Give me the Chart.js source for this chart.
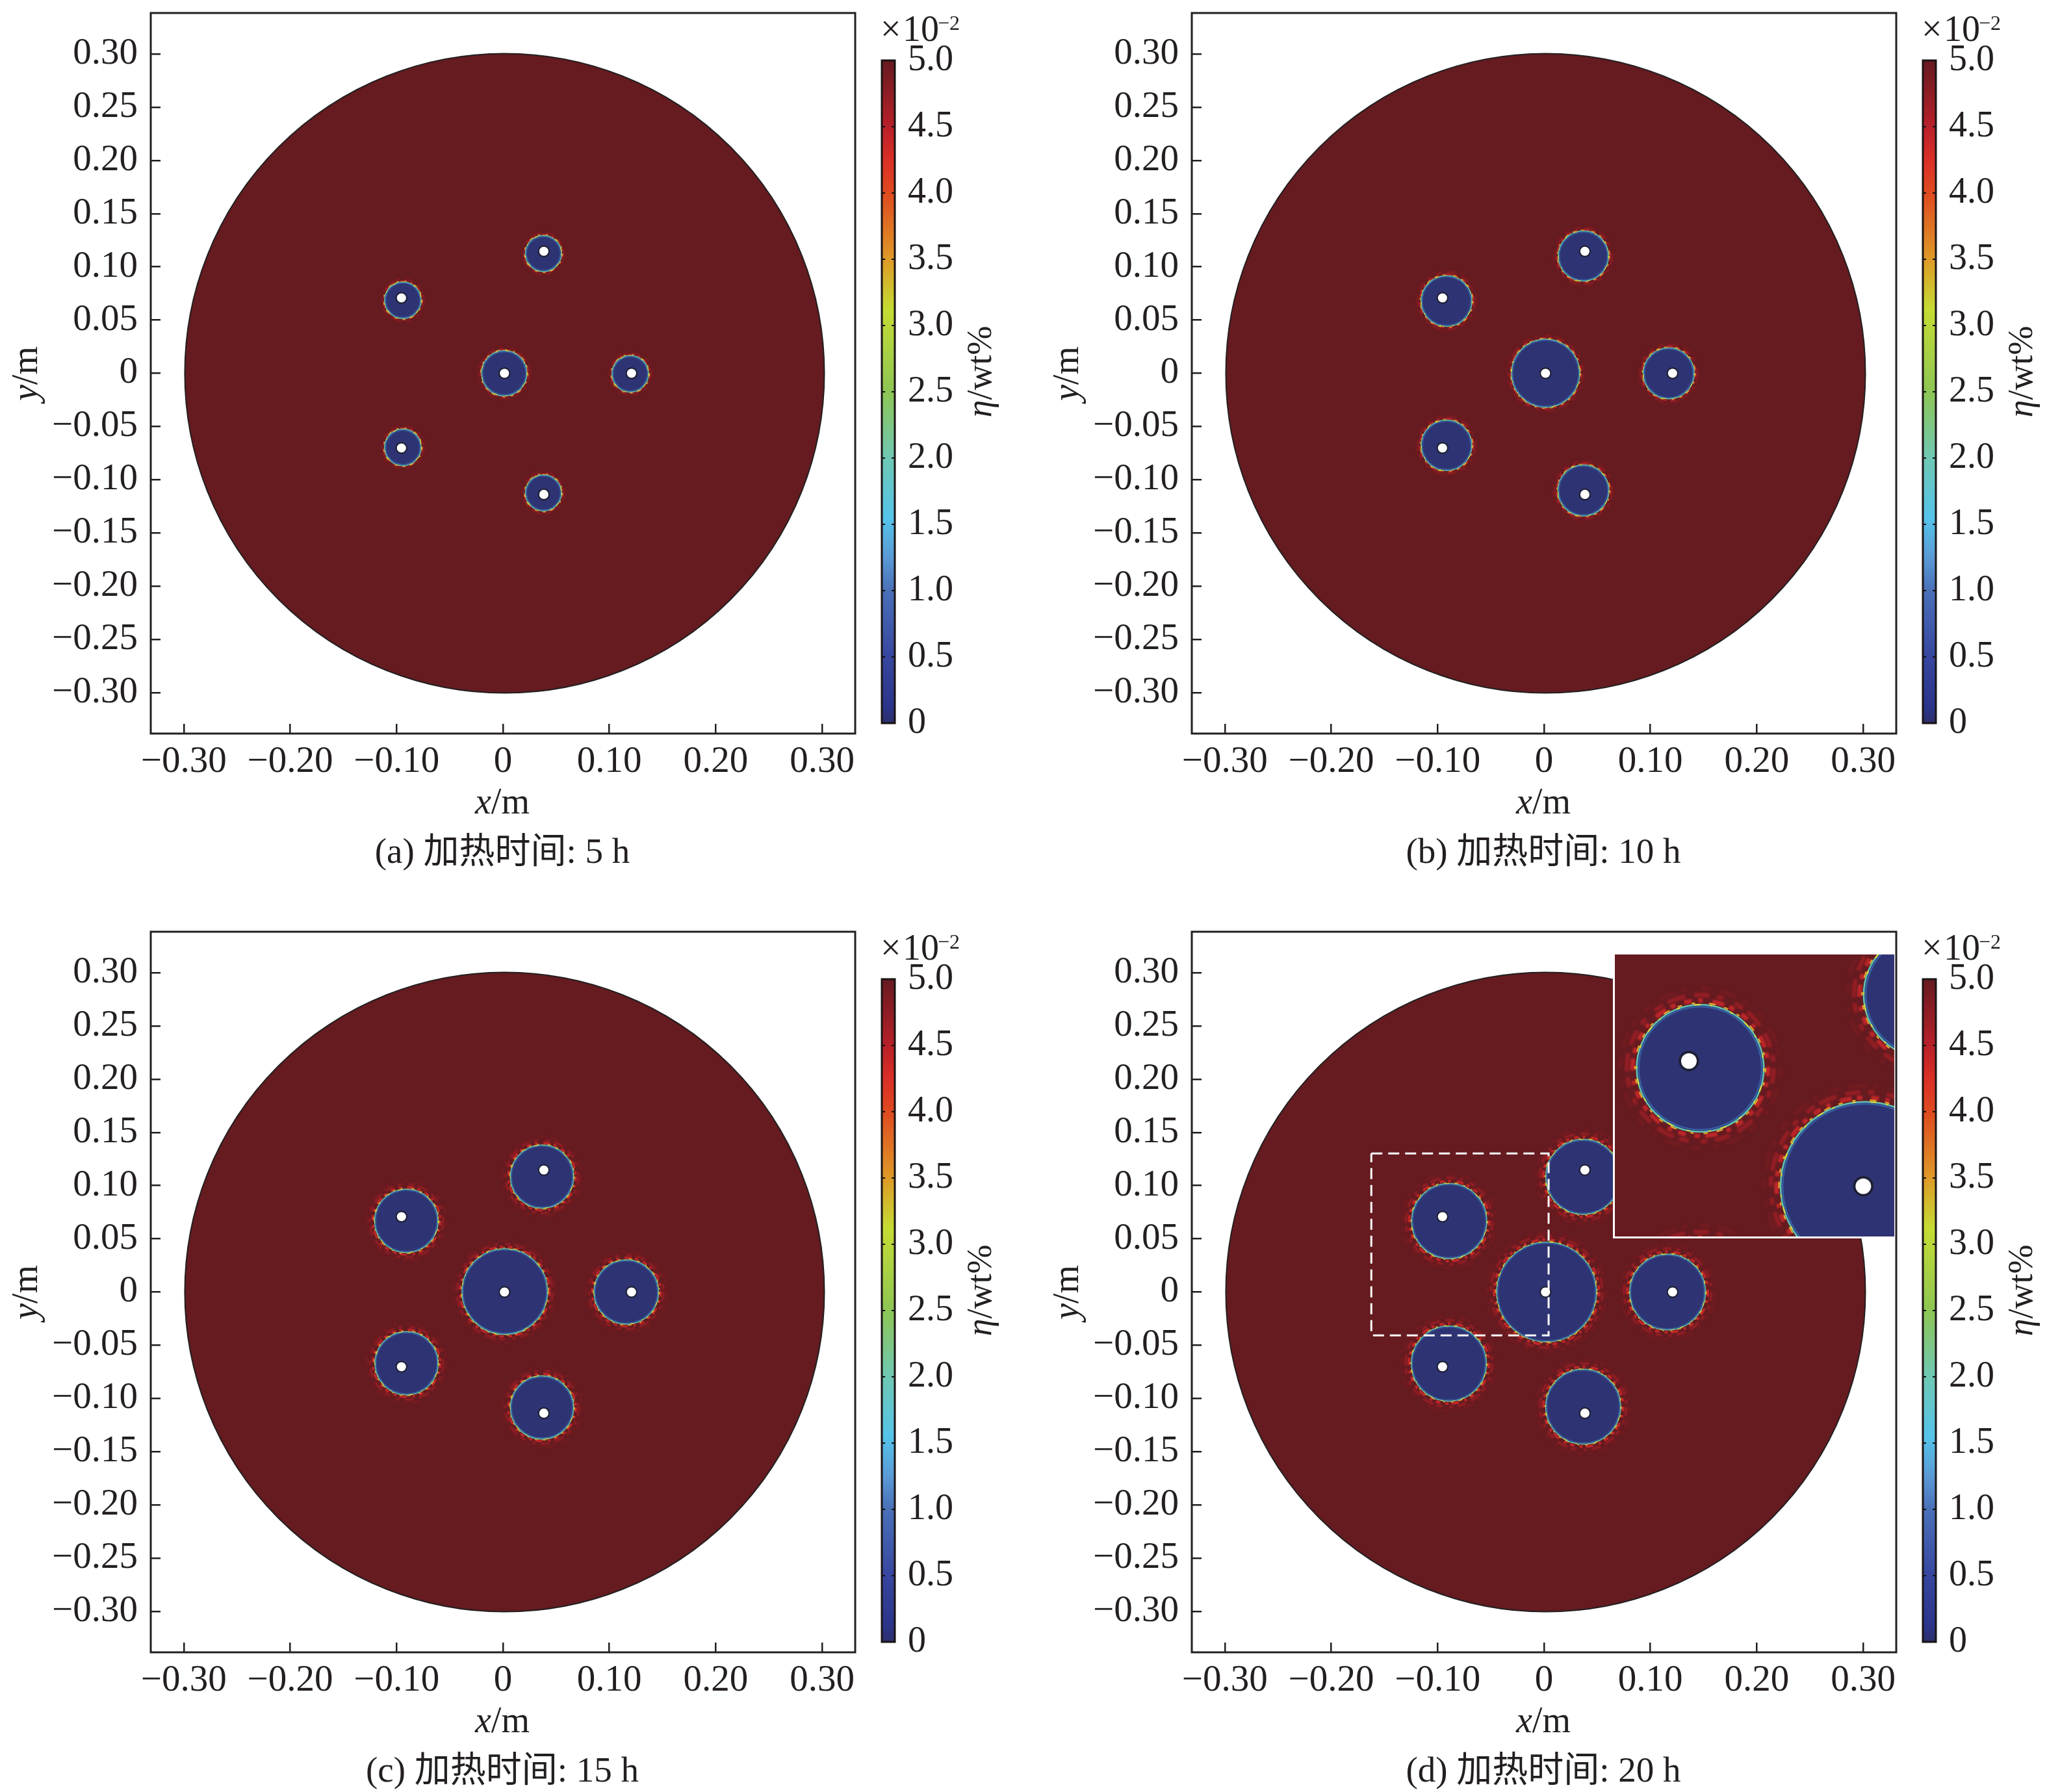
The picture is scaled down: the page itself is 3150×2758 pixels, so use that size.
<!DOCTYPE html>
<html><head><meta charset="utf-8">
<style>
html,body{margin:0;padding:0;background:#fff;width:3150px;height:2758px;overflow:hidden}
canvas{position:absolute;display:block}
</style>
<script src="https://cdn.jsdelivr.net/npm/chart.js@4"></script>
</head><body>
<script>
// ---- axis ticks ----
const xTickValues=[-0.30,-0.20,-0.10,0,0.10,0.20,0.30];
const yTickValues=[0.30,0.25,0.20,0.15,0.10,0.05,0,-0.05,-0.10,-0.15,-0.20,-0.25,-0.30];
const cbTickValues=[0,0.5,1.0,1.5,2.0,2.5,3.0,3.5,4.0,4.5,5.0];
// ---- colour scale (value, colour) ----
const cbStopValues=[0,0.12,0.5,1.0,1.25,1.55,2.0,2.5,3.12,3.5,4.0,4.25,4.5,5.0];
const cbStopColors=['#2e2f6c','#2b3489','#37469f','#4a70b8','#5a9ad5','#55c4ea','#6fc8b4','#8dc654','#c5dc33','#de9a27','#df4a20','#da2f26','#b82029','#661a20'];
// ---- billet ----
const billetX=[0.0015];
const billetY=[0];
const billetR=[0.3005];
// ---- heater holes ----
const holeX=[0.0014,0.1208,0.0384,0.0384,-0.0954,-0.0954];
const holeY=[0,0,0.1146,-0.1138,0.0708,-0.0702];
const holeR=[0.0050,0.0050,0.0050,0.0050,0.0050,0.0050];
// ---- melted pools per panel ----
const diskX5=[0.0012,0.1196,0.0380,0.0380,-0.0941,-0.0941];
const diskY5=[0,-0.0005,0.1125,-0.1124,0.0686,-0.0696];
const diskR5=[0.0213,0.0172,0.0170,0.0170,0.0172,0.0172];
const diskX10=[0.0015,0.1172,0.0370,0.0370,-0.0916,-0.0916];
const diskY10=[0,0,0.1102,-0.1101,0.0679,-0.0677];
const diskR10=[0.0320,0.0240,0.0236,0.0240,0.0239,0.0238];
const diskX15=[0.0017,0.1159,0.0367,0.0367,-0.0908,-0.0906];
const diskY15=[0.0004,0,0.1084,-0.1085,0.0668,-0.0669];
const diskR15=[0.0402,0.0303,0.0297,0.0297,0.0298,0.0297];
const diskX20=[0.0024,0.1161,0.0368,0.0368,-0.0891,-0.0894];
const diskY20=[0,0,0.1082,-0.1077,0.0667,-0.0672];
const diskR20=[0.0469,0.0356,0.0352,0.0352,0.0353,0.0353];
// ---- dashed zoom window in (d) ----
const zoomRectX=[-0.1623,0.0043,0.0043,-0.1623,-0.1623];
const zoomRectY=[0.1302,0.1302,-0.0407,-0.0407,0.1302];
// ---- captions ----
const captions=['(a) 加热时间: 5 h','(b) 加热时间: 10 h','(c) 加热时间: 15 h','(d) 加热时间: 20 h'];
const haloWidths=[0.0032,0.0040,0.0062,0.0072];

const INK='#231f20', SERIF='"Liberation Serif","Noto Sans CJK SC",serif';
const panelData=[[diskX5,diskY5,diskR5],[diskX10,diskY10,diskR10],[diskX15,diskY15,diskR15],[diskX20,diskY20,diskR20]];
const pts=(xs,ys,rs)=>xs.map((x,i)=>({x,y:ys[i],rm:rs[i]}));
const rPx=ctx=>{const s=ctx.chart.scales.x;return s.getPixelForValue(ctx.raw.rm)-s.getPixelForValue(0);};
const kOf=chart=>{const s=chart.scales.x;return (s.getPixelForValue(1)-s.getPixelForValue(0))/1637;};
const fmtAxis=v=>{if(Math.abs(v)<1e-9)return '0';const t=Math.abs(v).toFixed(2);return v<0?'\u2212'+t:t;};

function drawParts(ctx,parts,cx,cy,rot,size){
  ctx.save();ctx.translate(cx,cy);ctx.rotate(rot||0);ctx.fillStyle=INK;ctx.textBaseline='alphabetic';ctx.textAlign='left';
  let w=0;parts.forEach(p=>{ctx.font=(p.i?'italic ':'')+size+'px '+SERIF;w+=ctx.measureText(p.t).width;});
  let x=-w/2;parts.forEach(p=>{ctx.font=(p.i?'italic ':'')+size+'px '+SERIF;ctx.fillText(p.t,x,size*0.33);x+=ctx.measureText(p.t).width;});
  ctx.restore();
}
const haloPlugin={id:'halo',
  beforeDatasetDraw(chart,args){
    const ds=chart.data.datasets[args.index]; if(ds.role!=='disk')return;
    const s=chart.scales.x,y=chart.scales.y,c=chart.ctx,a=chart.chartArea,k=kOf(chart),w=ds.halo*1637*k;
    c.save();c.beginPath();c.rect(a.left,a.top,a.width,a.height);c.clip();
    ds.data.forEach(d=>{
      const px=s.getPixelForValue(d.x),py=y.getPixelForValue(d.y),r=rPx({chart,raw:d});
      const ring=(rr,col,lw,dash,blur)=>{c.filter='blur('+blur+'px)';c.beginPath();c.arc(px,py,rr,0,Math.PI*2);c.strokeStyle=col;c.lineWidth=lw;c.setLineDash(dash.map(v=>v*k));c.stroke();};
      ring(r+w*1.25,'rgba(170,32,38,.22)',w*0.30,[9,8,17,6,5,12],1.2*k);
      ring(r+w*0.75,'rgba(185,33,40,.55)',w*0.34,[14,7,6,11,9,5,17,8],1.0*k);
      ring(r+w*0.32,'rgba(205,40,42,.85)',w*0.34,[7,6,4,9,11,5,5,8],0.7*k);
      ring(r+1.5*k,'#e2a02a',1.5*k,[4,9,3,13,6,8],0.2*k);
    });
    c.filter='none';c.setLineDash([]);c.restore();
  },
  afterDatasetDraw(chart,args){
    const ds=chart.data.datasets[args.index]; if(ds.role!=='disk')return;
    const s=chart.scales.x,y=chart.scales.y,c=chart.ctx,a=chart.chartArea,k=kOf(chart);
    c.save();c.beginPath();c.rect(a.left,a.top,a.width,a.height);c.clip();
    ds.data.forEach(d=>{
      const px=s.getPixelForValue(d.x),py=y.getPixelForValue(d.y),r=rPx({chart,raw:d});
      c.beginPath();c.arc(px,py,r,0,Math.PI*2);c.strokeStyle='#d8d93c';c.lineWidth=1.3*k;c.setLineDash([3*k,13*k,6*k,9*k,2*k,17*k]);c.stroke();
      c.beginPath();c.arc(px,py,r-1.9*k,0,Math.PI*2);c.strokeStyle='rgba(61,127,196,.6)';c.lineWidth=1.3*k;c.setLineDash([]);c.stroke();
    });
    c.restore();
  }
};
const framePlugin={id:'frame',afterDraw(chart){
  const a=chart.chartArea,c=chart.ctx,o=chart.options.plugins.frame;
  if(!o||!o.width)return;
  c.save();c.strokeStyle=o.color||INK;c.lineWidth=o.width;c.strokeRect(a.left,a.top,a.width,a.height);c.restore();
}};
function datasets(p,withRect){
  const [dx,dy,dr]=panelData[p];
  const list=[];
  if(withRect) list.push({label:'zoom window',data:zoomRectX.map((x,i)=>({x,y:zoomRectY[i]})),showLine:true,pointRadius:0,borderColor:'#ffffff',borderWidth:3,borderDash:[17,9],fill:false});
  list.push({label:'holes',data:pts(holeX,holeY,holeR),pointBackgroundColor:'#ffffff',pointBorderColor:'#1e2036',pointRadius:rPx,pointBorderWidth:ctx=>2.2*kOf(ctx.chart)});
  list.push({label:'pools',role:'disk',halo:haloWidths[p],data:pts(dx,dy,dr),pointBackgroundColor:'#2e3473',pointBorderColor:'#62c4ae',pointRadius:rPx,pointBorderWidth:ctx=>1.5*kOf(ctx.chart)});
  list.push({label:'billet',data:pts(billetX,billetY,billetR),pointBackgroundColor:'#651b20',pointBorderColor:'#231f20',pointRadius:rPx,pointBorderWidth:2});
  return list;
}
function mkCanvas(x,y,w,h){const c=document.createElement('canvas');c.width=w;c.height=h;c.style.left=x+'px';c.style.top=y+'px';c.style.width=w+'px';c.style.height=h+'px';document.body.appendChild(c);return c;}
const FONT={family:SERIF,size:57};
const CBFONT={family:SERIF,size:56};
const noPad=s=>{s.paddingLeft=0;s.paddingRight=0;s.paddingTop=0;s.paddingBottom=0;};
function panel(p,ox,oy){
  const cv=mkCanvas(ox,oy,1340,1344);
  new Chart(cv,{type:'scatter',
    data:{datasets:datasets(p,p===3)},
    options:{responsive:false,animation:false,devicePixelRatio:1,events:[],
      layout:{padding:{left:0,right:24,top:20,bottom:115}},
      plugins:{legend:{display:false},tooltip:{enabled:false},title:{display:false},frame:{width:3,color:INK}},
      scales:{
        x:{type:'linear',position:'bottom',min:-0.331,max:0.331,afterFit:s=>{s.height=100;noPad(s);},
          afterBuildTicks:s=>{s.ticks=xTickValues.map(value=>({value}));},
          ticks:{callback:fmtAxis,font:FONT,color:INK,padding:25,maxRotation:0,autoSkip:false},
          grid:{drawOnChartArea:false,drawTicks:true,tickLength:-15,color:INK,lineWidth:2.5},border:{display:false}},
        y:{type:'linear',position:'left',min:-0.3385,max:0.3385,afterFit:s=>{s.width=232;noPad(s);},
          afterBuildTicks:s=>{s.ticks=yTickValues.map(value=>({value}));},
          ticks:{callback:fmtAxis,font:FONT,color:INK,padding:35,autoSkip:false},
          grid:{drawOnChartArea:false,drawTicks:true,tickLength:-15,color:INK,lineWidth:2.5},border:{display:false}}
      }},
    plugins:[haloPlugin,framePlugin,{id:'labels',afterDraw(ch){
      const c=ch.ctx;
      drawParts(c,[{t:'x',i:true},{t:'/m'}],773,1234,0,56);
      drawParts(c,[{t:'y',i:true},{t:'/m'}],39,575,-Math.PI/2,56);
      drawParts(c,[{t:captions[p]}],773,1310,0,55);
    }}]
  });
  // colour bar
  const cb=mkCanvas(ox+1320,oy,280,1200);
  const tickGrid={drawOnChartArea:false,drawTicks:true,tickLength:-5,color:'#111',lineWidth:2,z:2};
  new Chart(cb,{type:'bar',
    data:{labels:['η'],datasets:[{label:'η',data:[5.0],barPercentage:1,categoryPercentage:1,
      backgroundColor:ctx=>{const a=ctx.chart.chartArea;if(!a)return cbStopColors[0];
        const g=ctx.chart.ctx.createLinearGradient(0,a.bottom,0,a.top);
        cbStopValues.forEach((v,i)=>g.addColorStop(v/5,cbStopColors[i]));return g;}}]},
    options:{responsive:false,animation:false,devicePixelRatio:1,events:[],
      layout:{padding:{left:37,right:0,top:93,bottom:87}},
      plugins:{legend:{display:false},tooltip:{enabled:false},frame:{width:3,color:'#1a1414'}},
      scales:{
        x:{type:'category',display:false},
        y:{type:'linear',position:'right',min:0,max:5,afterFit:s=>{s.width=223;noPad(s);},
          afterBuildTicks:s=>{s.ticks=cbTickValues.map(value=>({value}));},
          ticks:{callback:v=>v===0?'0':v.toFixed(1),font:CBFONT,color:INK,padding:25,autoSkip:false},
          grid:tickGrid,border:{display:false}},
        y2:{type:'linear',position:'left',min:0,max:5,afterFit:s=>{s.width=0;noPad(s);},
          afterBuildTicks:s=>{s.ticks=cbTickValues.map(value=>({value}));},
          ticks:{display:false},grid:tickGrid,border:{display:false}}
      }},
    plugins:[framePlugin,{id:'cblabels',afterDraw(ch){
      const c=ch.ctx;c.save();c.fillStyle=INK;c.textBaseline='alphabetic';c.textAlign='left';
      c.font='56px '+SERIF;c.fillText('×',35,63);c.fillText('10',69,63);
      c.font='32px '+SERIF;c.fillText('\u22122',123,46);
      c.restore();
      drawParts(c,[{t:'η',i:true},{t:'/wt%'}],187,572,-Math.PI/2,54);
    }}]
  });
}
panel(0,0,0);
panel(1,1602,0);
panel(2,0,1414);
panel(3,1602,1414);
// enlarged inset of (d), same data through its own scales
const inset=mkCanvas(2485,1469,430,434);
inset.style.boxShadow='-3px 3px 0 #fff';
new Chart(inset,{type:'scatter',
  data:{datasets:datasets(3,false)},
  options:{responsive:false,animation:false,devicePixelRatio:1,events:[],layout:{padding:0},
    plugins:{legend:{display:false},tooltip:{enabled:false}},
    scales:{x:{type:'linear',display:false,min:-0.1365,max:0.0186},y:{type:'linear',display:false,min:-0.0284,max:0.1310}}},
  plugins:[haloPlugin]
});
</script>
</body></html>
